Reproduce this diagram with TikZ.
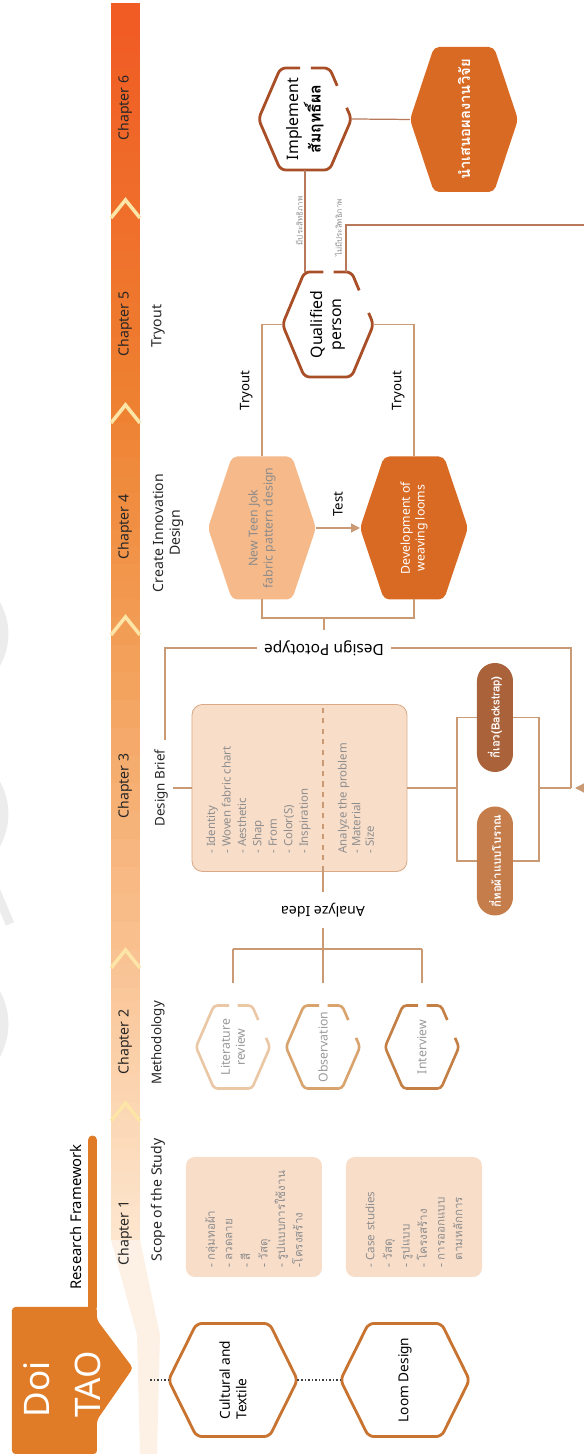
\documentclass[tikz,border=0pt]{standalone}
\usepackage{fontspec}
\setmainfont{Noto Sans}
\newfontfamily\thai[Script=Thai]{Loma}
\usepackage{tikz}
\usetikzlibrary{calc,backgrounds,arrows.meta}

\definecolor{bandT}{HTML}{FDF0E4}
\definecolor{bandA}{HTML}{FDE6CF}
\definecolor{bandB}{HTML}{FBD6B2}
\definecolor{bandC}{HTML}{F9C191}
\definecolor{bandD}{HTML}{F29B52}
\definecolor{bandE}{HTML}{EE8131}
\definecolor{bandF}{HTML}{EF6D2A}
\definecolor{bandG}{HTML}{F15A24}
\definecolor{chev}{HTML}{FCE5A6}
\definecolor{badge}{HTML}{E07C28}
\definecolor{peach}{HTML}{F8DDC9}
\definecolor{briefline}{HTML}{D9AA88}
\definecolor{linetan}{HTML}{C99A74}
\definecolor{qbrown}{HTML}{B7795A}
\definecolor{hexline}{HTML}{C8732F}
\definecolor{redbrown}{HTML}{A94F27}
\definecolor{deeporange}{HTML}{D86A24}
\definecolor{lightorange}{HTML}{F5B98A}
\definecolor{litcol}{HTML}{EBC8A5}
\definecolor{obscol}{HTML}{D9A36E}
\definecolor{intcol}{HTML}{C47F45}
\definecolor{pillA}{HTML}{C47D4B}
\definecolor{pillB}{HTML}{A9623A}
\definecolor{txtgray}{HTML}{8E8E8E}
\definecolor{wmark}{HTML}{ECECEC}

% corners of a hexagon round a node (points at north and south)
\newcommand{\hexcorners}[2]{%
  \coordinate (#1-1) at (#1.north);
  \coordinate (#1-2) at ($(#1.north east)+(0,-#2)$);
  \coordinate (#1-3) at ($(#1.south east)+(0,#2)$);
  \coordinate (#1-4) at (#1.south);
  \coordinate (#1-5) at ($(#1.south west)+(0,#2)$);
  \coordinate (#1-6) at ($(#1.north west)+(0,-#2)$);}
\newcommand{\hexfull}[3][]{%
  \hexcorners{#2}{#3}
  \path[#1] (#2-1) -- (#2-2) -- (#2-3) -- (#2-4) -- (#2-5) -- (#2-6) -- cycle;}
\newcommand{\hexopen}[3][]{%
  \hexcorners{#2}{#3}
  \path[#1] ($(#2-2)!0.62!(#2-3)$) -- (#2-3) -- ($(#2-3)!0.35!(#2-4)$);
  \path[#1] ($(#2-3)!0.78!(#2-4)$) -- (#2-4) -- (#2-5) -- (#2-6) -- (#2-1) -- (#2-2) -- ($(#2-2)!0.40!(#2-3)$);}

\begin{document}
\begin{tikzpicture}[x=0.2mm, y=0.2mm, rotate=90, transform shape]

\tikzstyle{chap} = [font=\fontsize{8}{9}\selectfont, text=black!85, inner sep=0]
\tikzstyle{head} = [font=\fontsize{8}{9.5}\selectfont, text=black!85, inner sep=0, align=center]
\tikzstyle{conn} = [draw=linetan, line width=0.7pt]
\tikzstyle{qline} = [draw=qbrown, line width=0.7pt]
\tikzstyle{lbl} = [font=\fontsize{7.5}{9}\selectfont, inner sep=1pt]
\tikzstyle{cut} = [fill=white, rotate=90, inner xsep=4pt, inner ysep=6pt]
\tikzstyle{tinylbl} = [font=\thai\fontsize{4.5}{5}\selectfont, text=txtgray, inner sep=1pt]
\tikzstyle{dots} = [dash pattern=on 1pt off 1pt, line width=0.8pt, black!75]
\tikzstyle{scopebox} = [fill=peach, rounded corners=5pt, minimum width=2.4cm,
    minimum height=2.72cm, inner sep=0, text width=2.04cm, align=left,
    text=txtgray, font=\thai\fontsize{6.6}{10}\selectfont]
\tikzstyle{list} = [inner sep=0, align=left, text=txtgray, font=\fontsize{6.5}{8.8}\selectfont]
\tikzstyle{bighex} = [inner sep=0, outer sep=0, minimum width=2.26cm, minimum height=2.58cm,
    align=left, font=\bfseries\fontsize{7.8}{9.5}\selectfont]
\tikzstyle{methhex} = [inner sep=0, outer sep=0, minimum width=1.66cm, minimum height=1.48cm,
    align=center, text=black!40, font=\fontsize{7}{8.5}\selectfont]
\tikzstyle{innohex} = [inner sep=0, outer sep=0, minimum width=2.86cm, minimum height=2.16cm,
    align=center, font=\fontsize{7}{8.5}\selectfont]
\tikzstyle{smallhex} = [inner sep=0, outer sep=0, align=center, font=\bfseries\fontsize{9}{10.5}\selectfont]
\tikzstyle{pill} = [rounded corners=0.36cm, minimum width=2.18cm, minimum height=0.72cm,
    inner sep=0, text=white, font=\thai\bfseries\fontsize{6.5}{8}\selectfont]

\useasboundingbox (0,0) rectangle (1454,584);

% =========================
% watermark at the edge
% =========================
\draw[wmark, line width=5pt] (640,642) circle (62);
\draw[wmark, line width=5pt] (430,644) circle (64);
\draw[wmark, line width=5pt] (820,640) circle (60);
\draw[wmark, line width=5pt] (568,590) -- (530,574);

% =========================
% chapter band
% =========================
\fill[bandT] (214,473) -- (119,447) -- (0,444) -- (0,427) -- (119,424) -- (214,444) -- cycle;
\foreach \ua/\ub/\ca/\cb in {214/351/bandA/bandB, 351/504/bandB/bandC, 504/837/bandC/bandD,
    837/1049/bandD/bandE, 1049/1254/bandE/bandF, 1254/1450/bandF/bandG}
{
  \foreach \k in {0,...,11}
  {
    \pgfmathsetmacro{\pa}{\ua+(\ub-\ua)*\k/12}
    \pgfmathsetmacro{\pb}{\ua+(\ub-\ua)*(\k+1)/12+0.6}
    \pgfmathsetmacro{\mx}{100-100*(\k+0.5)/12}
    \fill[\ca!\mx!\cb] (\pa,444) rectangle (\pb,473);
  }
}
\foreach \u in {351,504,837,1049,1254}
  \draw[chev, line width=2pt] (\u-18,473) -- (\u,458.5) -- (\u-18,444);

\foreach \n/\u in {1/221, 2/412, 3/668, 4/927, 5/1130, 6/1346}
  \node[chap] (ch\n) at (\u,459) {Chapter \n};

% =========================
% Doi TAO badge
% =========================
\draw[badge, line width=5.1pt, line cap=round] (147,491.5) -- (314,491.5);
\fill[badge, rounded corners=2pt] (0,572) -- (147,572) -- (147,487) -- (134,487)
    -- (86,451) -- (34,487) -- (0,487) -- cycle;
\node[font=\fontsize{20}{29}\selectfont, text=white, align=left, anchor=west, inner sep=0]
    (doi) at (36,522) {Doi\\TAO};
\node[font=\bfseries\fontsize{8.4}{10}\selectfont, inner sep=0] (rf) at (237,508) {Research Framework};

% =========================
% headers
% =========================
\node[head] (scope) at (254,426) {Scope of the Study};
\node[head, font=\bfseries\fontsize{7.6}{9}\selectfont] (method) at (411,426) {Methodology};
\node[head, font=\bfseries\fontsize{7.6}{9}\selectfont] (brief) at (666,423) {Design Brief};
\node[head] (create) at (921,416) {Create Innovation\\Design};
\node[head] (tryhead) at (1128,426) {Tryout};

% =========================
% chapter 1 - scope
% =========================
\node[bighex] (cult) at (74,351) {Cultural and\\Textile};
\node[bighex] (loom) at (74,179) {Loom Design};
\hexfull[draw=hexline, line width=1.6pt, rounded corners=3pt]{cult}{28}
\hexfull[draw=hexline, line width=1.6pt, rounded corners=3pt]{loom}{28}

\coordinate (dstart) at (74,434);
\draw[dots] (dstart) -- (cult.north);
\draw[dots] (cult.south) -- (loom.north);

\node[scopebox] (sbox1) at (237,330)
    {- กลุ่มทอผ้า\\- ลวดลาย\\- สี\\- วัสดุ\\- รูปแบบการใช้งาน\\-โครงสร้าง};
\node[scopebox] (sbox2) at (237,170)
    {{\rmfamily - Case studies}\\- วัสดุ\\- รูปแบบ\\- โครงสร้าง\\- การออกแบบ\\\phantom{- }ตามหลักการ};

% =========================
% chapter 2 - methodology
% =========================
\node[methhex] (lit) at (407,351) {Literature\\review};
\node[methhex] (obs) at (407,261) {Observation};
\node[methhex] (inter) at (407,162) {Interview};
\hexopen[draw=litcol, line width=1.5pt, rounded corners=2pt]{lit}{18}
\hexopen[draw=obscol, line width=1.5pt, rounded corners=2pt]{obs}{18}
\hexopen[draw=intcol, line width=1.5pt, rounded corners=2pt]{inter}{18}

\coordinate (tree) at (505,261);
\coordinate (treeL) at (505,351);
\coordinate (treeR) at (505,162);
\draw[conn] (treeL) -- (treeR);
\draw[conn, shorten >=0.44cm] (treeL) -- (lit.east);
\draw[conn, shorten >=0.44cm] (tree) -- (obs.east);
\draw[conn, shorten >=0.44cm] (treeR) -- (inter.east);

% =========================
% chapter 3 - design brief
% =========================
\node[fill=peach, draw=briefline, line width=0.5pt, rounded corners=6pt, minimum width=3.34cm,
    minimum height=4.3cm, inner sep=0] (bbox) at (666,284.5) {};
\coordinate (divL) at (583,261);
\coordinate (divR) at (749,261);
\draw[conn, dashed] (divL) -- (divR);
\node[list, anchor=west] (blist1) at (600,325.5)
    {- Identity\\- Woven fabric chart\\- Aesthetic\\- Shap\\- From\\- Color(S)\\- Inspiration};
\node[list, anchor=west, font=\fontsize{6.5}{7.8}\selectfont] (blist2) at (600,228)
    {Analyze the problem\\- Material\\- Size};

\draw[conn, shorten <=0.1cm] (brief.south) -- (bbox.north);
\draw[conn] (divL) -- node[cut, font=\fontsize{8}{9}\selectfont] (analyze) {Analyze Idea} (tree);

\node[pill, fill=pillA] (loomA) at (593,89) {กี่ทอผ้าแบบโบราณ};
\node[pill, fill=pillB] (loomB) at (736.5,89) {กี่เอว(Backstrap)};
\begin{pgfonlayer}{background}
\draw[conn] (loomA.center) -- ++(0,38) -- ++(143.5,0) -- (loomB.center);
\draw[conn] (loomA.center) -- ++(0,-44) -- ++(143.5,0) -- (loomB.center);
\end{pgfonlayer}

\coordinate (brtop) at (666,127);
\coordinate (brbot) at (666,45);
\coordinate (j1) at (666,13);
\coordinate (protoR) at (806,13);
\coordinate (protoL) at (806,419);
\coordinate (protoEnd) at (714,419);
\coordinate (stub) at (836,260);
\draw[conn] (bbox.south) -- (brtop);
\draw[conn] (brbot) -- (j1);
\draw[conn] (j1) -- (protoR) -- (protoL) -- (protoEnd);
\node[cut, font=\fontsize{8.8}{10}\selectfont] (proto) at (806,260) {Design Pototype};
\draw[conn] (proto) -- (stub);

% =========================
% chapter 4 - innovation
% =========================
\node[innohex, text=black!45] (teen) at (926,322) {New Teen Jok\\fabric pattern design};
\node[innohex, text=white, font=\bfseries\fontsize{7}{8.5}\selectfont] (dev) at (926,170)
    {Development of\\weaving looms};
\begin{pgfonlayer}{background}
\hexfull[fill=lightorange, rounded corners=3pt]{teen}{24}
\hexfull[fill=deeporange, rounded corners=3pt]{dev}{24}
\end{pgfonlayer}

\coordinate (barT) at (836,322);
\coordinate (barD) at (836,170);
\draw[conn] (teen.west) -- (barT) -- (barD) -- (dev.west);
\draw[conn, -{Triangle[length=5pt, width=5pt]}] (teen.south) -- (dev.north);
\node[lbl] (testlbl) at (950,246) {Test};

% =========================
% chapter 5 and 6
% =========================
\node[smallhex, minimum width=2.1cm, minimum height=1.82cm] (qual) at (1129.5,256) {Qualified\\person};
\node[smallhex, minimum width=2.04cm, minimum height=1.86cm] (impl) at (1335,279)
    {Implement\\{\thai สัมฤทธิ์ผล}};
\node[innohex, minimum width=2.9cm, text=white, font=\thai\bfseries\fontsize{8.4}{10}\selectfont]
    (pres) at (1334.5,120) {นำเสนอผลงานวิจัย};
\hexopen[draw=redbrown, line width=1.6pt, rounded corners=3pt]{qual}{22}
\hexopen[draw=redbrown, line width=1.6pt, rounded corners=3pt]{impl}{22}
\begin{pgfonlayer}{background}
\hexfull[fill=deeporange, rounded corners=3pt]{pres}{24}
\end{pgfonlayer}

\coordinate (try1) at (1129.5,322);
\coordinate (try2) at (1129.5,170);
\draw[conn] (teen.east) -- node[lbl, above=4pt] (tryA) {Tryout} (try1) -- (qual.north);
\draw[conn] (dev.east) -- node[lbl, above=4pt] (tryB) {Tryout} (try2) -- (qual.south);

\coordinate (qin) at (1182,279);
\coordinate (qout) at (1182,238);
\coordinate (qturn) at (1229,238);
\coordinate (qfar) at (1229,-12);
\coordinate (qback) at (666,-12);
\draw[qline] (impl.west) -- node[tinylbl, above] (eff) {มีประสิทธิภาพ} (qin);
\draw[qline] (qout) -- (qturn) -- (qfar) -- (qback);
\draw[conn, -{Triangle[length=5pt, width=5pt]}, shorten >=0.08cm] (qback) -- (j1);
\node[tinylbl, anchor=south] (noeff) at (1226,240) {ไม่มีประสิทธิภาพ};
\draw[qline] (impl.south) -- (pres.north);

\end{tikzpicture}
\end{document}
